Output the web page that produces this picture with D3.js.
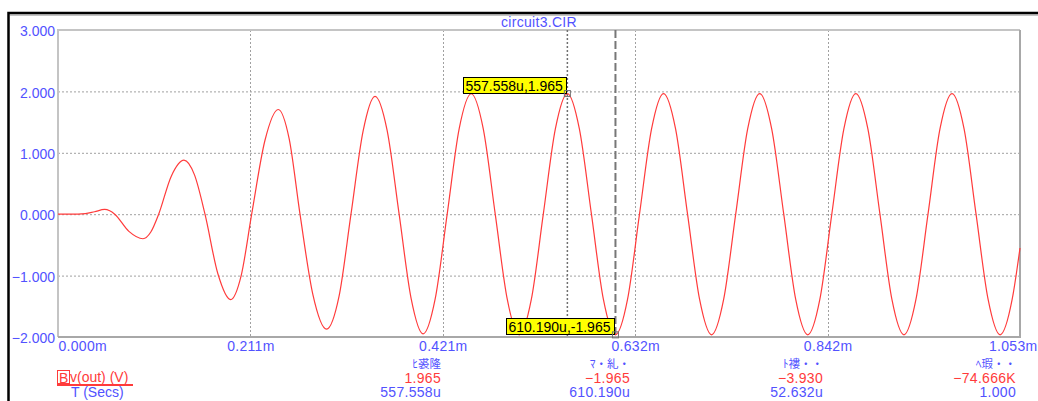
<!DOCTYPE html>
<html><head><meta charset="utf-8">
<script src="https://cdn.jsdelivr.net/npm/d3@7"></script>
<style>
html,body{margin:0;padding:0;background:#fff;}
svg{display:block;font-family:"Liberation Sans",Arial,sans-serif;}
</style></head>
<body>
<svg id="chart" width="1038" height="401"></svg>
<script>
// ---- data (time in ms, voltage in V) ----
const timeMs = [0, 0.0219, 0.030, 0.040, 0.0511, 0.0566, 0.0621, 0.0776, 0.0930, 0.1016, 0.1102, 0.1240, 0.1379, 0.1494, 0.1609, 0.1750, 0.1890, 0.2005, 0.2120, 0.2265, 0.2411, 0.2530, 0.2649, 0.2790, 0.2940, 0.3076, 0.3207, 0.3339, 0.3470, 0.3602, 0.3734, 0.3865, 0.3997, 0.4128, 0.4260, 0.4391, 0.4523, 0.4655, 0.4786, 0.4918, 0.5049, 0.5181, 0.5312, 0.5444, 0.5576, 0.5707, 0.5839, 0.5970, 0.6102, 0.6234, 0.6365, 0.6497, 0.6628, 0.6760, 0.6891, 0.7023, 0.7154, 0.7286, 0.7418, 0.7549, 0.7681, 0.7812, 0.7944, 0.8075, 0.8207, 0.8339, 0.8470, 0.8602, 0.8733, 0.8865, 0.8997, 0.9128, 0.9260, 0.9391, 0.9523, 0.9654, 0.9786, 0.9918, 1.0049, 1.0181, 1.0312, 1.0444, 1.0530];
const vOut = [0, 0, 0.008, 0.04, 0.077, 0.055, 0, -0.28, -0.40, -0.29, 0, 0.62, 0.88, 0.64, 0, -0.97, -1.39, -1.0, 0, 1.2, 1.705, 1.23, 0, -1.31, -1.873, -1.34, 0, 1.35, 1.92, 1.37, 0, -1.37, -1.95, -1.385, 0, 1.39, 1.962, 1.389, 0, -1.389, -1.965, -1.389, 0, 1.389, 1.965, 1.389, 0, -1.389, -1.965, -1.389, 0, 1.389, 1.965, 1.389, 0, -1.389, -1.965, -1.389, 0, 1.389, 1.965, 1.389, 0, -1.389, -1.965, -1.389, 0, 1.389, 1.965, 1.389, 0, -1.389, -1.965, -1.389, 0, 1.389, 1.965, 1.389, 0, -1.389, -1.965, -1.389, -0.55];

const xTickValues = [0, 0.2106, 0.4212, 0.6318, 0.8424, 1.053];
const xTickLabels = ["0.000m", "0.211m", "0.421m", "0.632m", "0.842m", "1.053m"];
const yTickValues = [3, 2, 1, 0, -1, -2];

const title = "circuit3.CIR";
const cursorPoints = [{t: 0.557558, v: 1.965, label: "557.558u,1.965"},
                      {t: 0.610190, v: -1.965, label: "610.190u,-1.965"}];

const readHeaders = ["ﾋ裘隆", "ﾏ・糺・", "ﾄ褸・・", "ﾍ瑕・・"];
const readValues  = ["1.965", "−1.965", "−3.930", "−74.666K"];
const readTimes   = ["557.558u", "610.190u", "52.632u", "1.000"];
const traceName = "v(out) (V)";
const traceLetter = "B";
const xName = "T (Secs)";

// ---- layout ----
const svg = d3.select("#chart");
const L = 58, R = 1020, T = 30, B = 337;
const blue = "#5252ff", red = "#ff3b3b";

const x = d3.scaleLinear().domain([0, 1.053]).range([L, R]);
const y = d3.scaleLinear().domain([-2, 3]).range([B, T]);

// outer frame
svg.append("path").attr("d", `M8.5,401 V13 H1038`).attr("fill", "none")
  .attr("stroke", "#000").attr("stroke-width", 2.5);
svg.append("line").attr("x1", 10).attr("x2", 1038).attr("y1", 15).attr("y2", 15)
  .attr("stroke", "#888").attr("stroke-width", 1);

// grid
const g = svg.append("g");
g.selectAll("line.hg").data(yTickValues.filter(v => v > -2 && v < 3)).join("line")
  .attr("x1", L).attr("x2", R).attr("y1", d => y(d) + 0.5).attr("y2", d => y(d) + 0.5)
  .attr("stroke", "#a0a0a0").attr("stroke-dasharray", "2,2");
g.selectAll("line.vg").data(xTickValues.slice(1, -1)).join("line")
  .attr("y1", T).attr("y2", B).attr("x1", d => Math.round(x(d)) + 0.5).attr("x2", d => Math.round(x(d)) + 0.5)
  .attr("stroke", "#a0a0a0").attr("stroke-dasharray", "2,2");

// plot border
svg.append("path").attr("d", `M${L},${B} V${T} H${R}`).attr("fill", "none")
  .attr("stroke", "#c4c4c4").attr("stroke-width", 2);
svg.append("path").attr("d", `M${R},${T} V${B} H${L}`).attr("fill", "none")
  .attr("stroke", "#a8a8a8").attr("stroke-width", 2);

// cursors
svg.append("line").attr("x1", x(cursorPoints[0].t)).attr("x2", x(cursorPoints[0].t))
  .attr("y1", T).attr("y2", B).attr("stroke", "#707070").attr("stroke-width", 1.5)
  .attr("stroke-dasharray", "2,2");
svg.append("line").attr("x1", x(cursorPoints[1].t)).attr("x2", x(cursorPoints[1].t))
  .attr("y1", T).attr("y2", B).attr("stroke", "#777").attr("stroke-width", 2)
  .attr("stroke-dasharray", "8,3");

// waveform
const pts = timeMs.map((t, i) => [t, vOut[i]]);
svg.append("path").datum(pts)
  .attr("fill", "none").attr("stroke", red).attr("stroke-width", 1.2)
  .attr("d", d3.line().x(d => x(d[0])).y(d => y(d[1])).curve(d3.curveMonotoneX));

// axes (labels only)
const xAxis = svg.append("g").attr("transform", `translate(0,${B})`)
  .call(d3.axisBottom(x).tickValues(xTickValues).tickFormat((d, i) => xTickLabels[i]).tickSize(0));
xAxis.select(".domain").remove();
xAxis.selectAll("text").attr("fill", blue).attr("font-size", 14)
  .attr("font-family", "Liberation Sans, Arial, sans-serif").attr("y", 14).attr("dy", 0)
  .attr("letter-spacing", 0.3)
  .attr("text-anchor", (d, i) => i === 0 ? "start" : (i === xTickValues.length - 1 ? "end" : "middle"))
  .attr("x", (d, i) => i === xTickValues.length - 1 ? 17 : 0);

const yAxis = svg.append("g").attr("transform", `translate(${L},0)`)
  .call(d3.axisLeft(y).tickValues(yTickValues).tickFormat(d3.format(".3f")).tickSize(0));
yAxis.select(".domain").remove();
yAxis.selectAll("text").attr("fill", blue).attr("font-size", 14)
  .attr("font-family", "Liberation Sans, Arial, sans-serif").attr("x", -3).attr("dy", "0.4em");

// title
svg.append("text").attr("x", (L + R) / 2).attr("y", 27).attr("text-anchor", "middle")
  .attr("fill", blue).attr("font-size", 14).attr("letter-spacing", 0.3).text(title);

// cursor markers and labels
cursorPoints.forEach(p => {
  const px = x(p.t), py = y(p.v);
  const lbl = svg.append("g");
  const tx = lbl.append("text").attr("font-size", 14).attr("fill", "#000").text(p.label);
  const w = tx.node().getComputedTextLength();
  const bw = w + 6, bh = 16;
  const bx = px - 1.5 - bw, by = py - 0.5 - bh;
  lbl.insert("rect", "text").attr("x", Math.round(bx) + 0.5).attr("y", Math.round(by) + 0.5)
    .attr("width", Math.round(bw)).attr("height", bh)
    .attr("fill", "#ffff00").attr("stroke", "#000").attr("stroke-width", 1);
  tx.attr("x", Math.round(bx) + 2.5).attr("y", Math.round(by) + 13.5);
  svg.append("rect").attr("x", px - 3).attr("y", py - 3).attr("width", 6).attr("height", 6)
    .attr("fill", "none").attr("stroke", "#707070").attr("stroke-width", 1);
});

// readout: left labels
svg.append("rect").attr("x", 57.5).attr("y", 370.5).attr("width", 12).attr("height", 13)
  .attr("fill", "none").attr("stroke", red).attr("stroke-width", 1);
svg.append("text").attr("x", 59).attr("y", 383).attr("fill", red).attr("font-size", 14).text(traceLetter);
svg.append("text").attr("x", 70).attr("y", 382).attr("fill", red).attr("font-size", 14).text(traceName);
svg.append("line").attr("x1", 57).attr("x2", 133).attr("y1", 385).attr("y2", 385)
  .attr("stroke", red).attr("stroke-width", 2);
svg.append("text").attr("x", 71).attr("y", 397).attr("fill", blue).attr("font-size", 14).text(xName);

// readout columns
const colX = [441, 630, 823, 1016];
colX.forEach((cx, i) => {
  svg.append("text").attr("x", cx).attr("y", 368).attr("text-anchor", "end")
    .attr("fill", blue).attr("font-size", 11.5).attr("font-family", "Noto Sans CJK JP, sans-serif")
    .text(readHeaders[i]);
  svg.append("text").attr("x", cx).attr("y", 383).attr("text-anchor", "end")
    .attr("fill", red).attr("font-size", 14).attr("letter-spacing", 0.3).text(readValues[i]);
  svg.append("text").attr("x", cx).attr("y", 397).attr("text-anchor", "end")
    .attr("fill", blue).attr("font-size", 14).attr("letter-spacing", 0.3).text(readTimes[i]);
});
</script>
</body></html>
